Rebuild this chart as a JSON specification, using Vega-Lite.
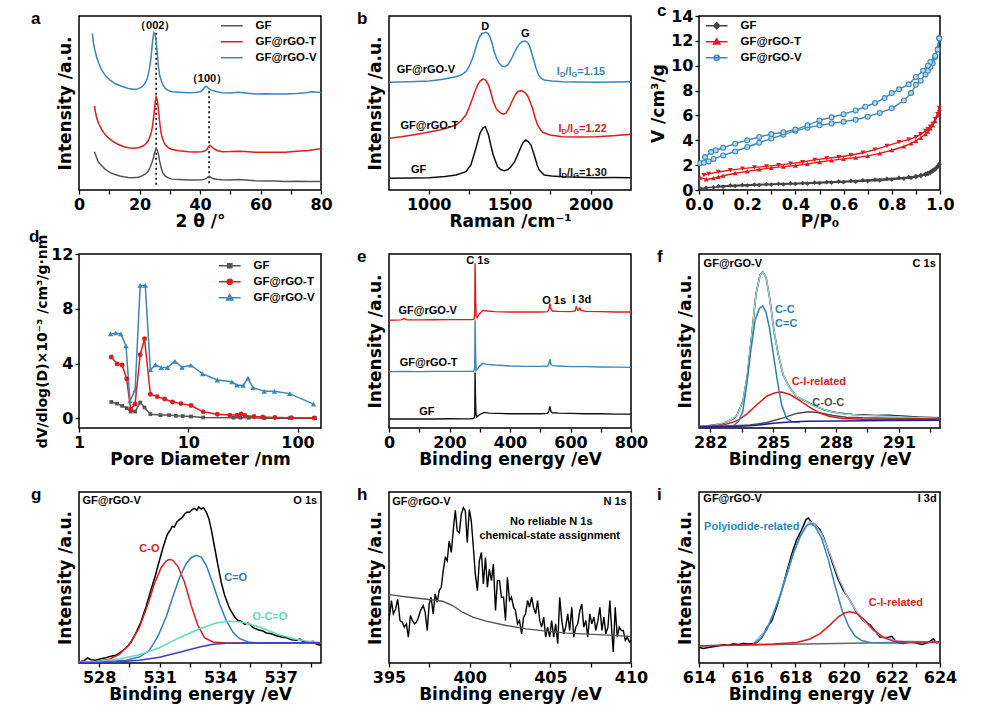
{
"$schema": "https://vega.github.io/schema/vega-lite/v6.json",
"padding": {"left": 28, "top": 1, "right": 5, "bottom": 5},
"background": "white",
"bounds": "flush",
"columns": 3,
"spacing": {"row": 64, "column": 68},
"resolve": {"scale": {"x": "independent", "y": "independent", "color": "independent", "shape": "independent"}, "legend": {"color": "independent", "shape": "independent"}},
"config": {
  "font": "DejaVu Sans",
  "view": {"stroke": "#000000", "strokeWidth": 1.5},
  "axis": {"domain": false, "grid": false, "tickColor": "#000000", "tickWidth": 1.3, "tickSize": 4, "labelFont": "DejaVu Sans", "labelFontWeight": "bold", "labelFontSize": 16, "labelColor": "#000000", "labelPadding": 2, "labelFlush": false, "labelOverlap": false, "titleFont": "DejaVu Sans", "titleFontWeight": "bold", "titleFontSize": 17, "titleColor": "#000000"},
  "axisX": {"titlePadding": 1},
  "axisY": {"titlePadding": 3},
  "legend": {"labelFont": "Liberation Sans", "labelFontWeight": "bold", "labelFontSize": 11.5, "labelColor": "#000000", "symbolStrokeWidth": 1.5, "padding": 0, "rowPadding": 3},
  "title": {"font": "Liberation Sans", "fontSize": 17, "fontWeight": "bold", "anchor": "start", "frame": "group", "offset": -12, "baseline": "alphabetic", "color": "#000000"},
  "text": {"font": "Liberation Sans", "fontWeight": "bold", "fontSize": 11}
},
"datasets": {
"a": [
{"s":"GF","x":5.08,"y":38.7},{"s":"GF","x":6.4,"y":28.3},{"s":"GF","x":8.61,"y":21},{"s":"GF","x":10.3,"y":17.6},{"s":"GF","x":11.92,"y":15.7},{"s":"GF","x":13.5,"y":14.2},{"s":"GF","x":14.8,"y":13.4},{"s":"GF","x":16.33,"y":12.7},{"s":"GF","x":17.8,"y":12.4},{"s":"GF","x":19.64,"y":13},{"s":"GF","x":20.8,"y":14.3},{"s":"GF","x":21.85,"y":16},{"s":"GF","x":22.8,"y":18.6},{"s":"GF","x":23.5,"y":22.7},{"s":"GF","x":24.1,"y":27.5},{"s":"GF","x":24.61,"y":32.7},{"s":"GF","x":25.05,"y":38.2},{"s":"GF","x":25.49,"y":42},{"s":"GF","x":25.9,"y":40.2},{"s":"GF","x":26.26,"y":36},{"s":"GF","x":26.6,"y":30},{"s":"GF","x":27.14,"y":22.7},{"s":"GF","x":27.7,"y":17.5},{"s":"GF","x":28.47,"y":14.3},{"s":"GF","x":29.5,"y":12.2},{"s":"GF","x":30.68,"y":11},{"s":"GF","x":33,"y":10.6},{"s":"GF","x":36.19,"y":10},{"s":"GF","x":38.5,"y":10.2},{"s":"GF","x":40.61,"y":10.3},{"s":"GF","x":41.6,"y":11},{"s":"GF","x":42.26,"y":12},{"s":"GF","x":42.7,"y":13.3},{"s":"GF","x":43.14,"y":14},{"s":"GF","x":43.6,"y":12.9},{"s":"GF","x":44.14,"y":11.7},{"s":"GF","x":45.5,"y":10.8},{"s":"GF","x":47.23,"y":10.3},{"s":"GF","x":50,"y":10.1},{"s":"GF","x":52.74,"y":10.5},{"s":"GF","x":55,"y":10.2},{"s":"GF","x":58.26,"y":9.3},{"s":"GF","x":62,"y":9.1},{"s":"GF","x":65,"y":9.2},{"s":"GF","x":68.19,"y":8.7},{"s":"GF","x":72,"y":8.9},{"s":"GF","x":76,"y":8.6},{"s":"GF","x":80,"y":8.7},
{"s":"GF@rGO-T","x":5.08,"y":85},{"s":"GF@rGO-T","x":5.5,"y":78},{"s":"GF@rGO-T","x":5.85,"y":72.7},{"s":"GF@rGO-T","x":6.6,"y":66.5},{"s":"GF@rGO-T","x":7.5,"y":61},{"s":"GF@rGO-T","x":8.5,"y":56.5},{"s":"GF@rGO-T","x":9.71,"y":52.7},{"s":"GF@rGO-T","x":11.3,"y":49},{"s":"GF@rGO-T","x":13.02,"y":46},{"s":"GF@rGO-T","x":14.6,"y":44},{"s":"GF@rGO-T","x":16.33,"y":42.7},{"s":"GF@rGO-T","x":18,"y":42.3},{"s":"GF@rGO-T","x":19.64,"y":42.7},{"s":"GF@rGO-T","x":20.8,"y":44},{"s":"GF@rGO-T","x":21.85,"y":46},{"s":"GF@rGO-T","x":22.8,"y":49.5},{"s":"GF@rGO-T","x":23.5,"y":54.3},{"s":"GF@rGO-T","x":24.0,"y":59.5},{"s":"GF@rGO-T","x":24.28,"y":64.3},{"s":"GF@rGO-T","x":24.6,"y":72},{"s":"GF@rGO-T","x":24.94,"y":81},{"s":"GF@rGO-T","x":25.2,"y":89},{"s":"GF@rGO-T","x":25.49,"y":94.3},{"s":"GF@rGO-T","x":25.75,"y":92.5},{"s":"GF@rGO-T","x":26.04,"y":87.7},{"s":"GF@rGO-T","x":26.3,"y":79.5},{"s":"GF@rGO-T","x":26.59,"y":71},{"s":"GF@rGO-T","x":26.95,"y":61.5},{"s":"GF@rGO-T","x":27.37,"y":54.3},{"s":"GF@rGO-T","x":27.9,"y":49.3},{"s":"GF@rGO-T","x":28.47,"y":46},{"s":"GF@rGO-T","x":29.4,"y":43.2},{"s":"GF@rGO-T","x":30.68,"y":41},{"s":"GF@rGO-T","x":33,"y":39.8},{"s":"GF@rGO-T","x":36.19,"y":38.7},{"s":"GF@rGO-T","x":38.5,"y":38.5},{"s":"GF@rGO-T","x":40.61,"y":38.7},{"s":"GF@rGO-T","x":41.6,"y":39.6},{"s":"GF@rGO-T","x":42.26,"y":41},{"s":"GF@rGO-T","x":42.8,"y":43.6},{"s":"GF@rGO-T","x":43.26,"y":45.3},{"s":"GF@rGO-T","x":43.8,"y":44},{"s":"GF@rGO-T","x":44.47,"y":42},{"s":"GF@rGO-T","x":45.6,"y":40},{"s":"GF@rGO-T","x":47.23,"y":38.7},{"s":"GF@rGO-T","x":50,"y":38.9},{"s":"GF@rGO-T","x":52.74,"y":39.3},{"s":"GF@rGO-T","x":55,"y":38.9},{"s":"GF@rGO-T","x":58.26,"y":38.3},{"s":"GF@rGO-T","x":62,"y":38.1},{"s":"GF@rGO-T","x":65,"y":38.2},{"s":"GF@rGO-T","x":68.19,"y":38.3},{"s":"GF@rGO-T","x":72,"y":39.2},{"s":"GF@rGO-T","x":75.92,"y":40},{"s":"GF@rGO-T","x":78,"y":41},{"s":"GF@rGO-T","x":80,"y":41.7},
{"s":"GF@rGO-V","x":4.41,"y":158.3},{"s":"GF@rGO-V","x":4.8,"y":148},{"s":"GF@rGO-V","x":5.3,"y":141},{"s":"GF@rGO-V","x":5.8,"y":134.5},{"s":"GF@rGO-V","x":6.4,"y":129.3},{"s":"GF@rGO-V","x":7.4,"y":122},{"s":"GF@rGO-V","x":8.61,"y":116},{"s":"GF@rGO-V","x":10.2,"y":111.3},{"s":"GF@rGO-V","x":11.92,"y":107.7},{"s":"GF@rGO-V","x":14,"y":105},{"s":"GF@rGO-V","x":16.33,"y":102.7},{"s":"GF@rGO-V","x":18.54,"y":101.7},{"s":"GF@rGO-V","x":19.7,"y":102.5},{"s":"GF@rGO-V","x":20.74,"y":104.3},{"s":"GF@rGO-V","x":21.5,"y":106.5},{"s":"GF@rGO-V","x":22.07,"y":109.3},{"s":"GF@rGO-V","x":22.55,"y":112.8},{"s":"GF@rGO-V","x":22.95,"y":117.7},{"s":"GF@rGO-V","x":23.4,"y":125},{"s":"GF@rGO-V","x":23.83,"y":134.3},{"s":"GF@rGO-V","x":24.28,"y":149.3},{"s":"GF@rGO-V","x":24.72,"y":159.3},{"s":"GF@rGO-V","x":25.05,"y":157.8},{"s":"GF@rGO-V","x":25.38,"y":154.3},{"s":"GF@rGO-V","x":25.82,"y":141},{"s":"GF@rGO-V","x":26.26,"y":124.3},{"s":"GF@rGO-V","x":26.7,"y":115.5},{"s":"GF@rGO-V","x":27.14,"y":111},{"s":"GF@rGO-V","x":27.8,"y":106},{"s":"GF@rGO-V","x":28.47,"y":102.7},{"s":"GF@rGO-V","x":29.5,"y":100.6},{"s":"GF@rGO-V","x":30.68,"y":99.3},{"s":"GF@rGO-V","x":33,"y":98.8},{"s":"GF@rGO-V","x":36.19,"y":98.3},{"s":"GF@rGO-V","x":38.5,"y":98.6},{"s":"GF@rGO-V","x":40.06,"y":99.3},{"s":"GF@rGO-V","x":40.7,"y":100.8},{"s":"GF@rGO-V","x":41.16,"y":102.7},{"s":"GF@rGO-V","x":41.6,"y":104},{"s":"GF@rGO-V","x":42.04,"y":105},{"s":"GF@rGO-V","x":42.4,"y":104.2},{"s":"GF@rGO-V","x":42.81,"y":102.7},{"s":"GF@rGO-V","x":43.5,"y":101.3},{"s":"GF@rGO-V","x":44.47,"y":100.3},{"s":"GF@rGO-V","x":46,"y":99.2},{"s":"GF@rGO-V","x":47.23,"y":98.3},{"s":"GF@rGO-V","x":50,"y":98.1},{"s":"GF@rGO-V","x":52.74,"y":98.8},{"s":"GF@rGO-V","x":55,"y":98.1},{"s":"GF@rGO-V","x":58.26,"y":97},{"s":"GF@rGO-V","x":62,"y":97.3},{"s":"GF@rGO-V","x":65,"y":97.1},{"s":"GF@rGO-V","x":68.19,"y":97},{"s":"GF@rGO-V","x":72,"y":97.6},{"s":"GF@rGO-V","x":75,"y":98.3},{"s":"GF@rGO-V","x":77.02,"y":99.3},{"s":"GF@rGO-V","x":80,"y":98.7}
],
"a_rule": [{"x":25.5,"y":159,"y2":5},{"x":43.0,"y":100,"y2":5}],
"a_text": [{"t":"（002）","x":25.2,"y":166},{"t":"（100）","x":42.3,"y":112}],
"b": [
{"s":"GF","x":757,"y":11.7},{"s":"GF","x":900,"y":11.9},{"s":"GF","x":1004,"y":12.3},{"s":"GF","x":1100,"y":13.5},{"s":"GF","x":1169,"y":15},{"s":"GF","x":1230,"y":18.3},{"s":"GF","x":1261,"y":25},{"s":"GF","x":1292,"y":41.7},{"s":"GF","x":1317,"y":56.7},{"s":"GF","x":1335,"y":62},{"s":"GF","x":1350,"y":63.3},{"s":"GF","x":1370,"y":55},{"s":"GF","x":1385,"y":44},{"s":"GF","x":1399,"y":35},{"s":"GF","x":1426,"y":23.3},{"s":"GF","x":1445,"y":20.5},{"s":"GF","x":1467,"y":19.3},{"s":"GF","x":1490,"y":20.5},{"s":"GF","x":1508,"y":23.3},{"s":"GF","x":1530,"y":28},{"s":"GF","x":1549,"y":35},{"s":"GF","x":1565,"y":41},{"s":"GF","x":1580,"y":46.7},{"s":"GF","x":1600,"y":50},{"s":"GF","x":1615,"y":48.5},{"s":"GF","x":1632,"y":45},{"s":"GF","x":1645,"y":38.5},{"s":"GF","x":1658,"y":31.7},{"s":"GF","x":1670,"y":25},{"s":"GF","x":1683,"y":20},{"s":"GF","x":1714,"y":15},{"s":"GF","x":1760,"y":14},{"s":"GF","x":1827,"y":13.3},{"s":"GF","x":1930,"y":12.8},{"s":"GF","x":2033,"y":12.3},{"s":"GF","x":2140,"y":12.4},{"s":"GF","x":2249,"y":12.3},
{"s":"GF@rGO-T","x":757,"y":51.7},{"s":"GF@rGO-T","x":830,"y":53.2},{"s":"GF@rGO-T","x":901,"y":55},{"s":"GF@rGO-T","x":980,"y":57.2},{"s":"GF@rGO-T","x":1066,"y":60},{"s":"GF@rGO-T","x":1120,"y":62.2},{"s":"GF@rGO-T","x":1169,"y":65},{"s":"GF@rGO-T","x":1200,"y":69},{"s":"GF@rGO-T","x":1230,"y":75},{"s":"GF@rGO-T","x":1250,"y":82.5},{"s":"GF@rGO-T","x":1271,"y":91.7},{"s":"GF@rGO-T","x":1285,"y":98},{"s":"GF@rGO-T","x":1302,"y":105},{"s":"GF@rGO-T","x":1320,"y":109.5},{"s":"GF@rGO-T","x":1337,"y":111},{"s":"GF@rGO-T","x":1352,"y":110},{"s":"GF@rGO-T","x":1370,"y":105},{"s":"GF@rGO-T","x":1385,"y":97},{"s":"GF@rGO-T","x":1399,"y":88.3},{"s":"GF@rGO-T","x":1420,"y":80.5},{"s":"GF@rGO-T","x":1447,"y":76.7},{"s":"GF@rGO-T","x":1462,"y":75.8},{"s":"GF@rGO-T","x":1477,"y":76.7},{"s":"GF@rGO-T","x":1500,"y":83},{"s":"GF@rGO-T","x":1519,"y":90},{"s":"GF@rGO-T","x":1535,"y":95},{"s":"GF@rGO-T","x":1549,"y":98.3},{"s":"GF@rGO-T","x":1565,"y":99.3},{"s":"GF@rGO-T","x":1580,"y":99},{"s":"GF@rGO-T","x":1595,"y":97.5},{"s":"GF@rGO-T","x":1611,"y":94.3},{"s":"GF@rGO-T","x":1626,"y":88.5},{"s":"GF@rGO-T","x":1642,"y":81.7},{"s":"GF@rGO-T","x":1657,"y":72.5},{"s":"GF@rGO-T","x":1673,"y":65},{"s":"GF@rGO-T","x":1690,"y":60.5},{"s":"GF@rGO-T","x":1704,"y":57.7},{"s":"GF@rGO-T","x":1750,"y":55},{"s":"GF@rGO-T","x":1827,"y":53.3},{"s":"GF@rGO-T","x":1930,"y":53},{"s":"GF@rGO-T","x":2033,"y":53.3},{"s":"GF@rGO-T","x":2140,"y":54.3},{"s":"GF@rGO-T","x":2249,"y":55.7},
{"s":"GF@rGO-V","x":757,"y":107.7},{"s":"GF@rGO-V","x":880,"y":108.2},{"s":"GF@rGO-V","x":1004,"y":109},{"s":"GF@rGO-V","x":1090,"y":110.8},{"s":"GF@rGO-V","x":1169,"y":113.3},{"s":"GF@rGO-V","x":1200,"y":115},{"s":"GF@rGO-V","x":1230,"y":118.3},{"s":"GF@rGO-V","x":1250,"y":123.5},{"s":"GF@rGO-V","x":1271,"y":131.7},{"s":"GF@rGO-V","x":1287,"y":140},{"s":"GF@rGO-V","x":1302,"y":148.3},{"s":"GF@rGO-V","x":1315,"y":153.3},{"s":"GF@rGO-V","x":1329,"y":156.7},{"s":"GF@rGO-V","x":1354,"y":157.7},{"s":"GF@rGO-V","x":1367,"y":156.5},{"s":"GF@rGO-V","x":1379,"y":153.3},{"s":"GF@rGO-V","x":1392,"y":146.5},{"s":"GF@rGO-V","x":1405,"y":138.3},{"s":"GF@rGO-V","x":1420,"y":131.5},{"s":"GF@rGO-V","x":1436,"y":126.7},{"s":"GF@rGO-V","x":1455,"y":123.8},{"s":"GF@rGO-V","x":1473,"y":123.3},{"s":"GF@rGO-V","x":1490,"y":125.5},{"s":"GF@rGO-V","x":1508,"y":130},{"s":"GF@rGO-V","x":1525,"y":135.8},{"s":"GF@rGO-V","x":1543,"y":141.7},{"s":"GF@rGO-V","x":1560,"y":145.8},{"s":"GF@rGO-V","x":1576,"y":148.3},{"s":"GF@rGO-V","x":1597,"y":149},{"s":"GF@rGO-V","x":1610,"y":147.8},{"s":"GF@rGO-V","x":1621,"y":145},{"s":"GF@rGO-V","x":1633,"y":139},{"s":"GF@rGO-V","x":1646,"y":131.7},{"s":"GF@rGO-V","x":1662,"y":122.5},{"s":"GF@rGO-V","x":1679,"y":115},{"s":"GF@rGO-V","x":1696,"y":111.5},{"s":"GF@rGO-V","x":1714,"y":110},{"s":"GF@rGO-V","x":1760,"y":109},{"s":"GF@rGO-V","x":1827,"y":108.3},{"s":"GF@rGO-V","x":1930,"y":107.9},{"s":"GF@rGO-V","x":2033,"y":107.7},{"s":"GF@rGO-V","x":2140,"y":108},{"s":"GF@rGO-V","x":2249,"y":108.3}
],
"b_text": [{"t":"GF@rGO-V","x":983,"y":120},{"t":"GF@rGO-T","x":1004,"y":64.3},{"t":"GF","x":938,"y":20},{"t":"D","x":1350,"y":163.3},{"t":"G","x":1597,"y":155.7}],
"b_ratio": [{"s":"GF@rGO-V","r":"=1.15","x":1792,"y":118.3},{"s":"GF@rGO-T","r":"=1.22","x":1802,"y":61},{"s":"GF","r":"=1.30","x":1802,"y":16.7}],
"c": [
{"s":"GF","b":"a","x":0.005,"y":0.12},{"s":"GF","b":"a","x":0.03,"y":0.18},{"s":"GF","b":"a","x":0.06,"y":0.22},{"s":"GF","b":"a","x":0.1,"y":0.27},{"s":"GF","b":"a","x":0.15,"y":0.32},{"s":"GF","b":"a","x":0.2,"y":0.36},{"s":"GF","b":"a","x":0.25,"y":0.4},{"s":"GF","b":"a","x":0.3,"y":0.43},{"s":"GF","b":"a","x":0.35,"y":0.46},{"s":"GF","b":"a","x":0.4,"y":0.49},{"s":"GF","b":"a","x":0.45,"y":0.52},{"s":"GF","b":"a","x":0.5,"y":0.56},{"s":"GF","b":"a","x":0.55,"y":0.6},{"s":"GF","b":"a","x":0.6,"y":0.63},{"s":"GF","b":"a","x":0.65,"y":0.67},{"s":"GF","b":"a","x":0.7,"y":0.72},{"s":"GF","b":"a","x":0.75,"y":0.77},{"s":"GF","b":"a","x":0.8,"y":0.84},{"s":"GF","b":"a","x":0.85,"y":0.92},{"s":"GF","b":"a","x":0.88,"y":0.98},{"s":"GF","b":"a","x":0.9,"y":1.04},{"s":"GF","b":"a","x":0.92,"y":1.12},{"s":"GF","b":"a","x":0.94,"y":1.22},{"s":"GF","b":"a","x":0.95,"y":1.3},{"s":"GF","b":"a","x":0.96,"y":1.38},{"s":"GF","b":"a","x":0.97,"y":1.5},{"s":"GF","b":"a","x":0.98,"y":1.65},{"s":"GF","b":"a","x":0.99,"y":1.85},{"s":"GF","b":"a","x":0.997,"y":2.05},
{"s":"GF","b":"d","x":0.997,"y":2.1},{"s":"GF","b":"d","x":0.99,"y":1.9},{"s":"GF","b":"d","x":0.98,"y":1.72},{"s":"GF","b":"d","x":0.97,"y":1.58},{"s":"GF","b":"d","x":0.96,"y":1.47},{"s":"GF","b":"d","x":0.95,"y":1.38},{"s":"GF","b":"d","x":0.94,"y":1.3},{"s":"GF","b":"d","x":0.92,"y":1.2},{"s":"GF","b":"d","x":0.9,"y":1.12},{"s":"GF","b":"d","x":0.87,"y":1.04},{"s":"GF","b":"d","x":0.83,"y":0.97},{"s":"GF","b":"d","x":0.78,"y":0.9},{"s":"GF","b":"d","x":0.73,"y":0.84},{"s":"GF","b":"d","x":0.68,"y":0.78},{"s":"GF","b":"d","x":0.63,"y":0.73},{"s":"GF","b":"d","x":0.58,"y":0.68},{"s":"GF","b":"d","x":0.53,"y":0.64},{"s":"GF","b":"d","x":0.48,"y":0.6},{"s":"GF","b":"d","x":0.43,"y":0.56},{"s":"GF","b":"d","x":0.38,"y":0.53},{"s":"GF","b":"d","x":0.33,"y":0.5},{"s":"GF","b":"d","x":0.28,"y":0.47},{"s":"GF","b":"d","x":0.23,"y":0.44},{"s":"GF","b":"d","x":0.18,"y":0.4},{"s":"GF","b":"d","x":0.13,"y":0.36},{"s":"GF","b":"d","x":0.08,"y":0.3},
{"s":"GF@rGO-T","b":"a","x":0.005,"y":1.0},{"s":"GF@rGO-T","b":"a","x":0.03,"y":0.85},{"s":"GF@rGO-T","b":"a","x":0.06,"y":0.95},{"s":"GF@rGO-T","b":"a","x":0.08,"y":1.05},{"s":"GF@rGO-T","b":"a","x":0.1,"y":1.15},{"s":"GF@rGO-T","b":"a","x":0.15,"y":1.35},{"s":"GF@rGO-T","b":"a","x":0.2,"y":1.5},{"s":"GF@rGO-T","b":"a","x":0.25,"y":1.65},{"s":"GF@rGO-T","b":"a","x":0.3,"y":1.78},{"s":"GF@rGO-T","b":"a","x":0.35,"y":1.88},{"s":"GF@rGO-T","b":"a","x":0.4,"y":1.97},{"s":"GF@rGO-T","b":"a","x":0.45,"y":2.1},{"s":"GF@rGO-T","b":"a","x":0.5,"y":2.25},{"s":"GF@rGO-T","b":"a","x":0.55,"y":2.38},{"s":"GF@rGO-T","b":"a","x":0.6,"y":2.5},{"s":"GF@rGO-T","b":"a","x":0.65,"y":2.6},{"s":"GF@rGO-T","b":"a","x":0.7,"y":2.75},{"s":"GF@rGO-T","b":"a","x":0.75,"y":2.95},{"s":"GF@rGO-T","b":"a","x":0.8,"y":3.2},{"s":"GF@rGO-T","b":"a","x":0.85,"y":3.5},{"s":"GF@rGO-T","b":"a","x":0.88,"y":3.75},{"s":"GF@rGO-T","b":"a","x":0.9,"y":3.95},{"s":"GF@rGO-T","b":"a","x":0.92,"y":4.2},{"s":"GF@rGO-T","b":"a","x":0.94,"y":4.5},{"s":"GF@rGO-T","b":"a","x":0.95,"y":4.7},{"s":"GF@rGO-T","b":"a","x":0.96,"y":4.95},{"s":"GF@rGO-T","b":"a","x":0.97,"y":5.2},{"s":"GF@rGO-T","b":"a","x":0.98,"y":5.55},{"s":"GF@rGO-T","b":"a","x":0.99,"y":6.0},{"s":"GF@rGO-T","b":"a","x":0.997,"y":6.5},
{"s":"GF@rGO-T","b":"d","x":0.997,"y":6.6},{"s":"GF@rGO-T","b":"d","x":0.99,"y":6.1},{"s":"GF@rGO-T","b":"d","x":0.98,"y":5.7},{"s":"GF@rGO-T","b":"d","x":0.97,"y":5.35},{"s":"GF@rGO-T","b":"d","x":0.96,"y":5.1},{"s":"GF@rGO-T","b":"d","x":0.95,"y":4.9},{"s":"GF@rGO-T","b":"d","x":0.94,"y":4.75},{"s":"GF@rGO-T","b":"d","x":0.92,"y":4.5},{"s":"GF@rGO-T","b":"d","x":0.9,"y":4.25},{"s":"GF@rGO-T","b":"d","x":0.87,"y":4.05},{"s":"GF@rGO-T","b":"d","x":0.83,"y":3.85},{"s":"GF@rGO-T","b":"d","x":0.78,"y":3.55},{"s":"GF@rGO-T","b":"d","x":0.73,"y":3.25},{"s":"GF@rGO-T","b":"d","x":0.68,"y":3.0},{"s":"GF@rGO-T","b":"d","x":0.63,"y":2.8},{"s":"GF@rGO-T","b":"d","x":0.58,"y":2.65},{"s":"GF@rGO-T","b":"d","x":0.53,"y":2.55},{"s":"GF@rGO-T","b":"d","x":0.48,"y":2.42},{"s":"GF@rGO-T","b":"d","x":0.43,"y":2.25},{"s":"GF@rGO-T","b":"d","x":0.38,"y":2.12},{"s":"GF@rGO-T","b":"d","x":0.33,"y":2.0},{"s":"GF@rGO-T","b":"d","x":0.28,"y":1.9},{"s":"GF@rGO-T","b":"d","x":0.23,"y":1.82},{"s":"GF@rGO-T","b":"d","x":0.18,"y":1.72},{"s":"GF@rGO-T","b":"d","x":0.13,"y":1.6},{"s":"GF@rGO-T","b":"d","x":0.08,"y":1.45},{"s":"GF@rGO-T","b":"d","x":0.04,"y":1.3},{"s":"GF@rGO-T","b":"d","x":0.02,"y":1.2},
{"s":"GF@rGO-V","b":"a","x":0.005,"y":2.16},{"s":"GF@rGO-V","b":"a","x":0.02,"y":2.2},{"s":"GF@rGO-V","b":"a","x":0.04,"y":2.3},{"s":"GF@rGO-V","b":"a","x":0.06,"y":2.5},{"s":"GF@rGO-V","b":"a","x":0.1,"y":2.78},{"s":"GF@rGO-V","b":"a","x":0.15,"y":3.1},{"s":"GF@rGO-V","b":"a","x":0.2,"y":3.46},{"s":"GF@rGO-V","b":"a","x":0.25,"y":3.8},{"s":"GF@rGO-V","b":"a","x":0.3,"y":4.14},{"s":"GF@rGO-V","b":"a","x":0.35,"y":4.45},{"s":"GF@rGO-V","b":"a","x":0.4,"y":4.76},{"s":"GF@rGO-V","b":"a","x":0.45,"y":5.0},{"s":"GF@rGO-V","b":"a","x":0.5,"y":5.2},{"s":"GF@rGO-V","b":"a","x":0.55,"y":5.35},{"s":"GF@rGO-V","b":"a","x":0.6,"y":5.5},{"s":"GF@rGO-V","b":"a","x":0.65,"y":5.65},{"s":"GF@rGO-V","b":"a","x":0.7,"y":5.9},{"s":"GF@rGO-V","b":"a","x":0.75,"y":6.2},{"s":"GF@rGO-V","b":"a","x":0.8,"y":6.57},{"s":"GF@rGO-V","b":"a","x":0.85,"y":7.2},{"s":"GF@rGO-V","b":"a","x":0.88,"y":7.8},{"s":"GF@rGO-V","b":"a","x":0.9,"y":8.46},{"s":"GF@rGO-V","b":"a","x":0.92,"y":8.8},{"s":"GF@rGO-V","b":"a","x":0.94,"y":9.3},{"s":"GF@rGO-V","b":"a","x":0.95,"y":9.6},{"s":"GF@rGO-V","b":"a","x":0.96,"y":9.9},{"s":"GF@rGO-V","b":"a","x":0.97,"y":10.2},{"s":"GF@rGO-V","b":"a","x":0.98,"y":10.7},{"s":"GF@rGO-V","b":"a","x":0.99,"y":11.3},{"s":"GF@rGO-V","b":"a","x":0.997,"y":12.2},
{"s":"GF@rGO-V","b":"d","x":0.997,"y":12.2},{"s":"GF@rGO-V","b":"d","x":0.98,"y":10.8},{"s":"GF@rGO-V","b":"d","x":0.96,"y":10.3},{"s":"GF@rGO-V","b":"d","x":0.95,"y":10.0},{"s":"GF@rGO-V","b":"d","x":0.93,"y":9.6},{"s":"GF@rGO-V","b":"d","x":0.9,"y":9.1},{"s":"GF@rGO-V","b":"d","x":0.87,"y":8.5},{"s":"GF@rGO-V","b":"d","x":0.83,"y":8.1},{"s":"GF@rGO-V","b":"d","x":0.8,"y":7.8},{"s":"GF@rGO-V","b":"d","x":0.77,"y":7.4},{"s":"GF@rGO-V","b":"d","x":0.73,"y":7.0},{"s":"GF@rGO-V","b":"d","x":0.69,"y":6.7},{"s":"GF@rGO-V","b":"d","x":0.65,"y":6.4},{"s":"GF@rGO-V","b":"d","x":0.6,"y":6.1},{"s":"GF@rGO-V","b":"d","x":0.55,"y":5.85},{"s":"GF@rGO-V","b":"d","x":0.5,"y":5.6},{"s":"GF@rGO-V","b":"d","x":0.45,"y":5.2},{"s":"GF@rGO-V","b":"d","x":0.4,"y":4.86},{"s":"GF@rGO-V","b":"d","x":0.35,"y":4.65},{"s":"GF@rGO-V","b":"d","x":0.3,"y":4.5},{"s":"GF@rGO-V","b":"d","x":0.25,"y":4.27},{"s":"GF@rGO-V","b":"d","x":0.2,"y":4.0},{"s":"GF@rGO-V","b":"d","x":0.15,"y":3.73},{"s":"GF@rGO-V","b":"d","x":0.1,"y":3.4},{"s":"GF@rGO-V","b":"d","x":0.07,"y":3.2},{"s":"GF@rGO-V","b":"d","x":0.05,"y":3.05},{"s":"GF@rGO-V","b":"d","x":0.025,"y":2.65}
],
"d": [
{"s":"GF","x":1.975,"y":1.2},{"s":"GF","x":2.23,"y":1.08},{"s":"GF","x":2.48,"y":0.92},{"s":"GF","x":2.73,"y":0.75},{"s":"GF","x":2.97,"y":0.5},{"s":"GF","x":3.26,"y":0.5},{"s":"GF","x":3.63,"y":1.16},{"s":"GF","x":3.98,"y":0.8},{"s":"GF","x":4.5,"y":0.31},{"s":"GF","x":5.58,"y":0.24},{"s":"GF","x":6.67,"y":0.24},{"s":"GF","x":7.7,"y":0.19},{"s":"GF","x":8.89,"y":0.17},{"s":"GF","x":10.6,"y":0.14},{"s":"GF","x":13.7,"y":0.07},{"s":"GF","x":26,"y":0.05},{"s":"GF","x":30,"y":0.05},{"s":"GF","x":35.9,"y":0.05},{"s":"GF","x":49.6,"y":0.02},{"s":"GF","x":84.8,"y":0.02},{"s":"GF","x":145,"y":0.02},
{"s":"GF@rGO-T","x":1.975,"y":4.48},{"s":"GF@rGO-T","x":2.23,"y":3.98},{"s":"GF@rGO-T","x":2.48,"y":3.9},{"s":"GF@rGO-T","x":2.73,"y":2.89},{"s":"GF@rGO-T","x":2.97,"y":0.67},{"s":"GF@rGO-T","x":3.26,"y":1.04},{"s":"GF@rGO-T","x":3.63,"y":4.65},{"s":"GF@rGO-T","x":3.98,"y":5.81},{"s":"GF@rGO-T","x":4.5,"y":1.76},{"s":"GF@rGO-T","x":5.19,"y":1.59},{"s":"GF@rGO-T","x":6.08,"y":1.42},{"s":"GF@rGO-T","x":7.17,"y":1.2},{"s":"GF@rGO-T","x":8.58,"y":1.08},{"s":"GF@rGO-T","x":10.6,"y":0.94},{"s":"GF@rGO-T","x":13.7,"y":0.48},{"s":"GF@rGO-T","x":18.45,"y":0.3},{"s":"GF@rGO-T","x":24,"y":0.24},{"s":"GF@rGO-T","x":28,"y":0.24},{"s":"GF@rGO-T","x":30.5,"y":0.33},{"s":"GF@rGO-T","x":33,"y":0.22},{"s":"GF@rGO-T","x":40,"y":0.14},{"s":"GF@rGO-T","x":48,"y":0.1},{"s":"GF@rGO-T","x":62,"y":0.07},{"s":"GF@rGO-T","x":88,"y":0.05},{"s":"GF@rGO-T","x":142,"y":0.03},
{"s":"GF@rGO-V","x":1.947,"y":6.17},{"s":"GF@rGO-V","x":2.17,"y":6.24},{"s":"GF@rGO-V","x":2.41,"y":6.17},{"s":"GF@rGO-V","x":2.69,"y":5.3},{"s":"GF@rGO-V","x":2.93,"y":1.28},{"s":"GF@rGO-V","x":3.26,"y":2.07},{"s":"GF@rGO-V","x":3.63,"y":9.71},{"s":"GF@rGO-V","x":4.04,"y":9.71},{"s":"GF@rGO-V","x":4.5,"y":3.54},{"s":"GF@rGO-V","x":5.01,"y":3.9},{"s":"GF@rGO-V","x":5.66,"y":3.71},{"s":"GF@rGO-V","x":6.44,"y":3.71},{"s":"GF@rGO-V","x":7.54,"y":4.17},{"s":"GF@rGO-V","x":8.76,"y":3.73},{"s":"GF@rGO-V","x":10.55,"y":3.88},{"s":"GF@rGO-V","x":13.56,"y":3.25},{"s":"GF@rGO-V","x":18.45,"y":2.8},{"s":"GF@rGO-V","x":25.1,"y":2.67},{"s":"GF@rGO-V","x":27.9,"y":2.43},{"s":"GF@rGO-V","x":31.8,"y":2.41},{"s":"GF@rGO-V","x":35.2,"y":2.94},{"s":"GF@rGO-V","x":39.1,"y":2.24},{"s":"GF@rGO-V","x":49.6,"y":1.98},{"s":"GF@rGO-V","x":61.5,"y":1.98},{"s":"GF@rGO-V","x":84.8,"y":1.81},{"s":"GF@rGO-V","x":140,"y":1.04}
],
"e": [
{"s":"GF","x":0,"y":9},{"s":"GF","x":50,"y":9.2},{"s":"GF","x":100,"y":9},{"s":"GF","x":150,"y":9.1},{"s":"GF","x":200,"y":9.3},{"s":"GF","x":250,"y":9.2},{"s":"GF","x":270,"y":9.3},{"s":"GF","x":280,"y":9.7},{"s":"GF","x":282,"y":10.3},{"s":"GF","x":283.5,"y":14},{"s":"GF","x":284.5,"y":55.7},{"s":"GF","x":285.5,"y":38},{"s":"GF","x":286.5,"y":22},{"s":"GF","x":288,"y":13.3},{"s":"GF","x":290,"y":11},{"s":"GF","x":295,"y":12.3},{"s":"GF","x":305,"y":14.3},{"s":"GF","x":315,"y":15.7},{"s":"GF","x":330,"y":15},{"s":"GF","x":360,"y":14.7},{"s":"GF","x":400,"y":14.3},{"s":"GF","x":450,"y":14.3},{"s":"GF","x":500,"y":14.3},{"s":"GF","x":525,"y":14.7},{"s":"GF","x":529,"y":17.7},{"s":"GF","x":532,"y":21.7},{"s":"GF","x":535,"y":16.7},{"s":"GF","x":540,"y":15.3},{"s":"GF","x":560,"y":15},{"s":"GF","x":600,"y":14.7},{"s":"GF","x":650,"y":14.3},{"s":"GF","x":700,"y":14.3},{"s":"GF","x":750,"y":14},{"s":"GF","x":800,"y":14},
{"s":"GF@rGO-T","x":0,"y":56.7},{"s":"GF@rGO-T","x":50,"y":56.8},{"s":"GF@rGO-T","x":100,"y":56.7},{"s":"GF@rGO-T","x":150,"y":56.9},{"s":"GF@rGO-T","x":200,"y":57},{"s":"GF@rGO-T","x":250,"y":57},{"s":"GF@rGO-T","x":270,"y":57},{"s":"GF@rGO-T","x":280,"y":57.3},{"s":"GF@rGO-T","x":282,"y":58.3},{"s":"GF@rGO-T","x":283.5,"y":62},{"s":"GF@rGO-T","x":284.5,"y":108.3},{"s":"GF@rGO-T","x":285.5,"y":90},{"s":"GF@rGO-T","x":286.5,"y":72},{"s":"GF@rGO-T","x":288,"y":57.7},{"s":"GF@rGO-T","x":292,"y":59},{"s":"GF@rGO-T","x":300,"y":62.3},{"s":"GF@rGO-T","x":310,"y":65},{"s":"GF@rGO-T","x":325,"y":64},{"s":"GF@rGO-T","x":350,"y":63.3},{"s":"GF@rGO-T","x":400,"y":62.3},{"s":"GF@rGO-T","x":450,"y":62},{"s":"GF@rGO-T","x":500,"y":62},{"s":"GF@rGO-T","x":525,"y":62.3},{"s":"GF@rGO-T","x":529,"y":65},{"s":"GF@rGO-T","x":532,"y":69.3},{"s":"GF@rGO-T","x":535,"y":64.3},{"s":"GF@rGO-T","x":540,"y":62.7},{"s":"GF@rGO-T","x":560,"y":62.3},{"s":"GF@rGO-T","x":600,"y":61.7},{"s":"GF@rGO-T","x":650,"y":61.7},{"s":"GF@rGO-T","x":700,"y":61.3},{"s":"GF@rGO-T","x":750,"y":61.2},{"s":"GF@rGO-T","x":800,"y":61},
{"s":"GF@rGO-V","x":0,"y":108.3},{"s":"GF@rGO-V","x":40,"y":108.7},{"s":"GF@rGO-V","x":50,"y":110},{"s":"GF@rGO-V","x":60,"y":108.7},{"s":"GF@rGO-V","x":100,"y":108.7},{"s":"GF@rGO-V","x":150,"y":108.8},{"s":"GF@rGO-V","x":200,"y":109},{"s":"GF@rGO-V","x":250,"y":109},{"s":"GF@rGO-V","x":270,"y":109},{"s":"GF@rGO-V","x":280,"y":109.3},{"s":"GF@rGO-V","x":282,"y":110.3},{"s":"GF@rGO-V","x":283.5,"y":118},{"s":"GF@rGO-V","x":284.5,"y":165.7},{"s":"GF@rGO-V","x":285.5,"y":150},{"s":"GF@rGO-V","x":286.5,"y":128},{"s":"GF@rGO-V","x":288,"y":113.3},{"s":"GF@rGO-V","x":291,"y":111},{"s":"GF@rGO-V","x":300,"y":115},{"s":"GF@rGO-V","x":310,"y":118.3},{"s":"GF@rGO-V","x":325,"y":117.7},{"s":"GF@rGO-V","x":350,"y":117},{"s":"GF@rGO-V","x":400,"y":116.7},{"s":"GF@rGO-V","x":450,"y":116.7},{"s":"GF@rGO-V","x":500,"y":116.7},{"s":"GF@rGO-V","x":525,"y":117},{"s":"GF@rGO-V","x":529,"y":120},{"s":"GF@rGO-V","x":532,"y":125},{"s":"GF@rGO-V","x":535,"y":120},{"s":"GF@rGO-V","x":540,"y":117.7},{"s":"GF@rGO-V","x":560,"y":117.3},{"s":"GF@rGO-V","x":600,"y":117},{"s":"GF@rGO-V","x":615,"y":117.7},{"s":"GF@rGO-V","x":619,"y":121.7},{"s":"GF@rGO-V","x":624,"y":118.3},{"s":"GF@rGO-V","x":628,"y":119},{"s":"GF@rGO-V","x":631,"y":120.7},{"s":"GF@rGO-V","x":635,"y":118.3},{"s":"GF@rGO-V","x":650,"y":117.3},{"s":"GF@rGO-V","x":700,"y":117},{"s":"GF@rGO-V","x":750,"y":116.7},{"s":"GF@rGO-V","x":800,"y":116.7}
],
"e_text": [{"t":"C 1s","x":294,"y":167.7},{"t":"O 1s","x":546,"y":127.3},{"t":"I 3d","x":637,"y":128.3},{"t":"GF@rGO-V","x":128,"y":117.3},{"t":"GF@rGO-T","x":131,"y":65.7},{"t":"GF","x":125,"y":15.7}],
"f": [
{"s":"raw","x":281.48,"y":0.7},{"s":"raw","x":281.9,"y":1.5},{"s":"raw","x":282.24,"y":2.5},{"s":"raw","x":282.6,"y":3.8},{"s":"raw","x":282.87,"y":6.2},{"s":"raw","x":283.1,"y":8.5},{"s":"raw","x":283.27,"y":11.9},{"s":"raw","x":283.55,"y":25.3},{"s":"raw","x":283.77,"y":51.5},{"s":"raw","x":283.98,"y":91.9},{"s":"raw","x":284.18,"y":131.5},{"s":"raw","x":284.37,"y":150.2},{"s":"raw","x":284.5,"y":153.5},{"s":"raw","x":284.66,"y":148},{"s":"raw","x":284.85,"y":125.3},{"s":"raw","x":285.04,"y":94.7},{"s":"raw","x":285.24,"y":71.9},{"s":"raw","x":285.48,"y":51.4},{"s":"raw","x":285.8,"y":38.6},{"s":"raw","x":286.11,"y":30.4},{"s":"raw","x":286.59,"y":25.3},{"s":"raw","x":287.06,"y":20.3},{"s":"raw","x":287.4,"y":17.5},{"s":"raw","x":287.7,"y":15.9},{"s":"raw","x":288.0,"y":14.6},{"s":"raw","x":288.33,"y":13.7},{"s":"raw","x":288.8,"y":12.6},{"s":"raw","x":289.28,"y":12.2},{"s":"raw","x":289.9,"y":11.6},{"s":"raw","x":290.54,"y":11.8},{"s":"raw","x":291.0,"y":11.2},{"s":"raw","x":291.49,"y":10.6},{"s":"raw","x":292.0,"y":10.0},{"s":"raw","x":292.5,"y":9.6},{"s":"raw","x":292.92,"y":9.3},
{"s":"env","x":281.48,"y":0.7},{"s":"env","x":282.24,"y":2.3},{"s":"env","x":282.87,"y":6},{"s":"env","x":283.27,"y":11.7},{"s":"env","x":283.55,"y":25},{"s":"env","x":283.77,"y":51.7},{"s":"env","x":283.98,"y":91.7},{"s":"env","x":284.18,"y":131.7},{"s":"env","x":284.37,"y":150},{"s":"env","x":284.5,"y":153.3},{"s":"env","x":284.66,"y":148.3},{"s":"env","x":284.85,"y":125},{"s":"env","x":285.04,"y":95},{"s":"env","x":285.24,"y":71.7},{"s":"env","x":285.48,"y":51.7},{"s":"env","x":285.8,"y":38.3},{"s":"env","x":286.11,"y":30.7},{"s":"env","x":286.59,"y":25},{"s":"env","x":287.06,"y":20},{"s":"env","x":287.7,"y":15.7},{"s":"env","x":288.33,"y":13.3},{"s":"env","x":289.28,"y":11.7},{"s":"env","x":290.54,"y":11},{"s":"env","x":291.49,"y":10},{"s":"env","x":292.92,"y":9},
{"s":"C-O-C","x":281.48,"y":0.7},{"s":"C-O-C","x":282.63,"y":1},{"s":"C-O-C","x":283.9,"y":2.3},{"s":"C-O-C","x":284.69,"y":4.7},{"s":"C-O-C","x":285.48,"y":9.3},{"s":"C-O-C","x":286.11,"y":13.7},{"s":"C-O-C","x":286.67,"y":15.3},{"s":"C-O-C","x":287.22,"y":14.3},{"s":"C-O-C","x":287.85,"y":11.7},{"s":"C-O-C","x":288.49,"y":10},{"s":"C-O-C","x":289.28,"y":9.3},{"s":"C-O-C","x":290.54,"y":9},{"s":"C-O-C","x":292.92,"y":8.3},
{"s":"C-I","x":281.48,"y":0.6},{"s":"C-I","x":281.84,"y":1},{"s":"C-I","x":282.63,"y":2.3},{"s":"C-I","x":283.27,"y":6.3},{"s":"C-I","x":283.74,"y":13},{"s":"C-I","x":284.22,"y":22.3},{"s":"C-I","x":284.69,"y":30.7},{"s":"C-I","x":285.09,"y":34},{"s":"C-I","x":285.4,"y":34.7},{"s":"C-I","x":285.8,"y":32.3},{"s":"C-I","x":286.27,"y":26.3},{"s":"C-I","x":286.75,"y":19.7},{"s":"C-I","x":287.22,"y":14},{"s":"C-I","x":287.7,"y":10.7},{"s":"C-I","x":288.33,"y":8.7},{"s":"C-I","x":289.28,"y":8},{"s":"C-I","x":290.54,"y":8},{"s":"C-I","x":292.92,"y":8},
{"s":"C-C","x":282.7,"y":1.1},{"s":"C-C","x":283.11,"y":1.7},{"s":"C-C","x":283.34,"y":5.7},{"s":"C-C","x":283.55,"y":15.7},{"s":"C-C","x":283.74,"y":42.3},{"s":"C-C","x":283.93,"y":75.7},{"s":"C-C","x":284.14,"y":105.7},{"s":"C-C","x":284.34,"y":117.3},{"s":"C-C","x":284.5,"y":119.7},{"s":"C-C","x":284.66,"y":113.3},{"s":"C-C","x":284.82,"y":98.3},{"s":"C-C","x":285.01,"y":71.7},{"s":"C-C","x":285.2,"y":45.7},{"s":"C-C","x":285.4,"y":22.3},{"s":"C-C","x":285.64,"y":9},{"s":"C-C","x":285.88,"y":5.7},{"s":"C-C","x":286.27,"y":4.7},
{"s":"bg","x":281.48,"y":0.3},{"s":"bg","x":283.42,"y":1},{"s":"bg","x":284.22,"y":2},{"s":"bg","x":285.0,"y":4},{"s":"bg","x":285.8,"y":5.3},{"s":"bg","x":286.59,"y":6},{"s":"bg","x":288.17,"y":6.3},{"s":"bg","x":290.54,"y":6.7},{"s":"bg","x":292.92,"y":7}
],
"f_lab": [{"s":"C-C","t":"C-C","x":285.09,"y":115.7},{"s":"C-C","t":"C=C","x":285.09,"y":101.7},{"s":"C-I","t":"C-I-related","x":285.88,"y":45},{"s":"C-O-C","t":"C-O-C","x":286.87,"y":24.3}],
"g": [
{"s":"raw","x":527.0,"y":1},{"s":"raw","x":527.25,"y":2.3},{"s":"raw","x":527.42,"y":5},{"s":"raw","x":527.59,"y":3.3},{"s":"raw","x":527.83,"y":2.7},{"s":"raw","x":528.08,"y":4.3},{"s":"raw","x":528.33,"y":5.3},{"s":"raw","x":528.58,"y":6.7},{"s":"raw","x":528.83,"y":7.7},{"s":"raw","x":529.08,"y":11},{"s":"raw","x":529.33,"y":15},{"s":"raw","x":529.58,"y":21},{"s":"raw","x":529.82,"y":30},{"s":"raw","x":530.07,"y":41},{"s":"raw","x":530.32,"y":56},{"s":"raw","x":530.57,"y":73.3},{"s":"raw","x":530.79,"y":87.7},{"s":"raw","x":530.99,"y":102.7},{"s":"raw","x":531.15,"y":114.3},{"s":"raw","x":531.32,"y":125.3},{"s":"raw","x":531.4,"y":129.3},{"s":"raw","x":531.52,"y":132.7},{"s":"raw","x":531.62,"y":136.7},{"s":"raw","x":531.73,"y":136},{"s":"raw","x":531.85,"y":141},{"s":"raw","x":531.98,"y":143.3},{"s":"raw","x":532.11,"y":145.3},{"s":"raw","x":532.25,"y":149.3},{"s":"raw","x":532.36,"y":151},{"s":"raw","x":532.48,"y":150.7},{"s":"raw","x":532.61,"y":153.3},{"s":"raw","x":532.73,"y":154.7},{"s":"raw","x":532.84,"y":152.7},{"s":"raw","x":532.94,"y":156},{"s":"raw","x":533.06,"y":154},{"s":"raw","x":533.17,"y":155.3},{"s":"raw","x":533.31,"y":151},{"s":"raw","x":533.44,"y":144.3},{"s":"raw","x":533.57,"y":132.7},{"s":"raw","x":533.72,"y":116},{"s":"raw","x":533.89,"y":97.7},{"s":"raw","x":534.05,"y":81},{"s":"raw","x":534.22,"y":67.7},{"s":"raw","x":534.47,"y":54.3},{"s":"raw","x":534.72,"y":46},{"s":"raw","x":534.88,"y":42.7},{"s":"raw","x":535.05,"y":41.7},{"s":"raw","x":535.21,"y":38.7},{"s":"raw","x":535.38,"y":40},{"s":"raw","x":535.63,"y":35.3},{"s":"raw","x":535.88,"y":33.3},{"s":"raw","x":536.13,"y":32},{"s":"raw","x":536.29,"y":30},{"s":"raw","x":536.54,"y":29.3},{"s":"raw","x":536.79,"y":27.3},{"s":"raw","x":537.04,"y":26},{"s":"raw","x":537.29,"y":25.3},{"s":"raw","x":537.54,"y":23.3},{"s":"raw","x":537.78,"y":22.7},{"s":"raw","x":537.95,"y":24},{"s":"raw","x":538.12,"y":21.3},{"s":"raw","x":538.36,"y":20.7},{"s":"raw","x":538.61,"y":21.7},{"s":"raw","x":538.78,"y":18.7},{"s":"raw","x":538.98,"y":17.7},
{"s":"C-O","x":527.0,"y":0.7},{"s":"C-O","x":527.83,"y":1.3},{"s":"C-O","x":528.5,"y":3.7},{"s":"C-O","x":529.0,"y":8.7},{"s":"C-O","x":529.49,"y":18.3},{"s":"C-O","x":529.99,"y":35.3},{"s":"C-O","x":530.4,"y":57.7},{"s":"C-O","x":530.74,"y":79.3},{"s":"C-O","x":531.07,"y":95.3},{"s":"C-O","x":531.32,"y":102},{"s":"C-O","x":531.48,"y":103.7},{"s":"C-O","x":531.65,"y":102.7},{"s":"C-O","x":531.9,"y":96.7},{"s":"C-O","x":532.23,"y":81},{"s":"C-O","x":532.56,"y":57.7},{"s":"C-O","x":532.89,"y":37.7},{"s":"C-O","x":533.22,"y":25.3},{"s":"C-O","x":533.64,"y":21},{"s":"C-O","x":534.3,"y":20},{"s":"C-O","x":536.29,"y":20},{"s":"C-O","x":538.98,"y":20},
{"s":"C=O","x":528.0,"y":1},{"s":"C=O","x":529.33,"y":2.7},{"s":"C=O","x":529.99,"y":6},{"s":"C=O","x":530.49,"y":12.7},{"s":"C=O","x":530.9,"y":26},{"s":"C=O","x":531.32,"y":46},{"s":"C=O","x":531.65,"y":66},{"s":"C=O","x":531.98,"y":85.3},{"s":"C=O","x":532.31,"y":99.3},{"s":"C=O","x":532.56,"y":105.3},{"s":"C=O","x":532.81,"y":107.7},{"s":"C=O","x":533.06,"y":106},{"s":"C=O","x":533.31,"y":97.7},{"s":"C=O","x":533.64,"y":79.3},{"s":"C=O","x":533.97,"y":59.3},{"s":"C=O","x":534.3,"y":42.7},{"s":"C=O","x":534.63,"y":31},{"s":"C=O","x":534.97,"y":24.3},{"s":"C=O","x":535.38,"y":21},{"s":"C=O","x":535.96,"y":20},{"s":"C=O","x":538.98,"y":20},
{"s":"O-C=O","x":527.0,"y":0.7},{"s":"O-C=O","x":528.0,"y":1.7},{"s":"O-C=O","x":528.99,"y":4},{"s":"O-C=O","x":529.99,"y":8.3},{"s":"O-C=O","x":530.99,"y":15.3},{"s":"O-C=O","x":531.98,"y":25.3},{"s":"O-C=O","x":532.98,"y":34.3},{"s":"O-C=O","x":533.8,"y":40},{"s":"O-C=O","x":534.47,"y":41.7},{"s":"O-C=O","x":535.13,"y":40.7},{"s":"O-C=O","x":535.96,"y":36},{"s":"O-C=O","x":536.79,"y":29.3},{"s":"O-C=O","x":537.62,"y":24.3},{"s":"O-C=O","x":538.28,"y":22},{"s":"O-C=O","x":538.98,"y":20.3},
{"s":"bg","x":527.0,"y":0.3},{"s":"bg","x":528.83,"y":1},{"s":"bg","x":529.99,"y":2.7},{"s":"bg","x":530.99,"y":5.7},{"s":"bg","x":531.98,"y":10.7},{"s":"bg","x":532.98,"y":16},{"s":"bg","x":533.64,"y":18.7},{"s":"bg","x":534.3,"y":19.7},{"s":"bg","x":535.63,"y":20},{"s":"bg","x":538.98,"y":20.3}
],
"g_lab": [{"s":"C-O","t":"C-O","x":530.49,"y":114.3},{"s":"C=O","t":"C=O","x":534.77,"y":85.3},{"s":"O-C=O","t":"O-C=O","x":536.46,"y":46}],
"h": [
{"s":"raw","x":395.0,"y":42.7},{"s":"raw","x":395.15,"y":62.7},{"s":"raw","x":395.27,"y":49.3},{"s":"raw","x":395.41,"y":54.3},{"s":"raw","x":395.54,"y":64.3},{"s":"raw","x":395.68,"y":42.7},{"s":"raw","x":395.83,"y":41},{"s":"raw","x":395.95,"y":36},{"s":"raw","x":396.08,"y":39.3},{"s":"raw","x":396.2,"y":26},{"s":"raw","x":396.33,"y":47.7},{"s":"raw","x":396.45,"y":42.7},{"s":"raw","x":396.58,"y":39.3},{"s":"raw","x":396.7,"y":41},{"s":"raw","x":396.83,"y":46},{"s":"raw","x":396.95,"y":52.7},{"s":"raw","x":397.12,"y":57.7},{"s":"raw","x":397.24,"y":51},{"s":"raw","x":397.37,"y":32.7},{"s":"raw","x":397.49,"y":59.3},{"s":"raw","x":397.61,"y":66},{"s":"raw","x":397.74,"y":49.3},{"s":"raw","x":397.86,"y":69.3},{"s":"raw","x":397.99,"y":61},{"s":"raw","x":398.11,"y":72.7},{"s":"raw","x":398.24,"y":76},{"s":"raw","x":398.36,"y":92.7},{"s":"raw","x":398.49,"y":106},{"s":"raw","x":398.61,"y":102.7},{"s":"raw","x":398.73,"y":122.7},{"s":"raw","x":398.86,"y":111},{"s":"raw","x":398.98,"y":132.7},{"s":"raw","x":399.11,"y":153.3},{"s":"raw","x":399.23,"y":132.7},{"s":"raw","x":399.36,"y":131},{"s":"raw","x":399.48,"y":149.3},{"s":"raw","x":399.61,"y":156},{"s":"raw","x":399.73,"y":152.7},{"s":"raw","x":399.85,"y":121},{"s":"raw","x":399.98,"y":154.3},{"s":"raw","x":400.1,"y":142.7},{"s":"raw","x":400.23,"y":116},{"s":"raw","x":400.35,"y":89.3},{"s":"raw","x":400.48,"y":72.7},{"s":"raw","x":400.6,"y":102.7},{"s":"raw","x":400.73,"y":111},{"s":"raw","x":400.85,"y":79.3},{"s":"raw","x":400.98,"y":106},{"s":"raw","x":401.1,"y":76},{"s":"raw","x":401.22,"y":94.3},{"s":"raw","x":401.35,"y":82.7},{"s":"raw","x":401.47,"y":99.3},{"s":"raw","x":401.6,"y":52.7},{"s":"raw","x":401.72,"y":82.7},{"s":"raw","x":401.85,"y":82.7},{"s":"raw","x":401.97,"y":66},{"s":"raw","x":402.1,"y":66},{"s":"raw","x":402.22,"y":42.7},{"s":"raw","x":402.34,"y":86},{"s":"raw","x":402.47,"y":62.7},{"s":"raw","x":402.59,"y":66},{"s":"raw","x":402.72,"y":56},{"s":"raw","x":402.84,"y":52.7},{"s":"raw","x":402.97,"y":39.3},{"s":"raw","x":403.09,"y":42.7},{"s":"raw","x":403.22,"y":29.3},{"s":"raw","x":403.34,"y":46},{"s":"raw","x":403.46,"y":49.3},{"s":"raw","x":403.59,"y":62.7},{"s":"raw","x":403.71,"y":56},{"s":"raw","x":403.84,"y":66},{"s":"raw","x":403.96,"y":56},{"s":"raw","x":404.09,"y":49.3},{"s":"raw","x":404.21,"y":62.7},{"s":"raw","x":404.34,"y":42.7},{"s":"raw","x":404.46,"y":36},{"s":"raw","x":404.59,"y":46},{"s":"raw","x":404.71,"y":26},{"s":"raw","x":404.83,"y":36},{"s":"raw","x":404.96,"y":26},{"s":"raw","x":405.08,"y":42.7},{"s":"raw","x":405.21,"y":26},{"s":"raw","x":405.33,"y":39.3},{"s":"raw","x":405.46,"y":19.3},{"s":"raw","x":405.58,"y":66},{"s":"raw","x":405.71,"y":42.7},{"s":"raw","x":405.83,"y":29.3},{"s":"raw","x":405.95,"y":36},{"s":"raw","x":406.08,"y":49.3},{"s":"raw","x":406.2,"y":32.7},{"s":"raw","x":406.33,"y":56},{"s":"raw","x":406.45,"y":26},{"s":"raw","x":406.58,"y":36},{"s":"raw","x":406.7,"y":39.3},{"s":"raw","x":406.83,"y":52.7},{"s":"raw","x":406.95,"y":59.3},{"s":"raw","x":407.07,"y":36},{"s":"raw","x":407.2,"y":42.7},{"s":"raw","x":407.32,"y":26},{"s":"raw","x":407.45,"y":49.3},{"s":"raw","x":407.57,"y":39.3},{"s":"raw","x":407.7,"y":46},{"s":"raw","x":407.82,"y":32.7},{"s":"raw","x":407.95,"y":42.7},{"s":"raw","x":408.07,"y":56},{"s":"raw","x":408.2,"y":32.7},{"s":"raw","x":408.32,"y":46},{"s":"raw","x":408.44,"y":29.3},{"s":"raw","x":408.57,"y":36},{"s":"raw","x":408.69,"y":62.7},{"s":"raw","x":408.82,"y":29.3},{"s":"raw","x":408.9,"y":11},{"s":"raw","x":409.02,"y":56},{"s":"raw","x":409.15,"y":26},{"s":"raw","x":409.27,"y":36},{"s":"raw","x":409.4,"y":32.7},{"s":"raw","x":409.52,"y":32.7},{"s":"raw","x":409.65,"y":22.7},{"s":"raw","x":409.77,"y":26},{"s":"raw","x":409.9,"y":21},{"s":"raw","x":410.0,"y":22.7},
{"s":"bg","x":395,"y":68.7},{"s":"bg","x":396.24,"y":66},{"s":"bg","x":397.49,"y":63.7},{"s":"bg","x":398.32,"y":62},{"s":"bg","x":398.94,"y":57.7},{"s":"bg","x":399.56,"y":51},{"s":"bg","x":400.19,"y":46},{"s":"bg","x":401.02,"y":42},{"s":"bg","x":402.26,"y":37.7},{"s":"bg","x":403.51,"y":34.3},{"s":"bg","x":404.75,"y":32},{"s":"bg","x":406.0,"y":30},{"s":"bg","x":407.66,"y":28.7},{"s":"bg","x":410,"y":26.7}
],
"h_lab": [{"t":"No reliable N 1s","x":405.06,"y":142},{"t":"chemical-state assignment","x":404.96,"y":127.7}],
"i": [
{"s":"bg","x":614,"y":17},{"s":"bg","x":624,"y":21},
{"s":"raw","x":614,"y":15.7},{"s":"raw","x":614.18,"y":14.3},{"s":"raw","x":614.39,"y":15.3},{"s":"raw","x":614.59,"y":16},{"s":"raw","x":614.8,"y":17},{"s":"raw","x":615.01,"y":18},{"s":"raw","x":615.22,"y":17.3},{"s":"raw","x":615.42,"y":19},{"s":"raw","x":615.63,"y":18.3},{"s":"raw","x":615.84,"y":19.3},{"s":"raw","x":616.05,"y":18.7},{"s":"raw","x":616.25,"y":19.3},{"s":"raw","x":616.39,"y":20.3},{"s":"raw","x":616.6,"y":25},{"s":"raw","x":616.81,"y":35},{"s":"raw","x":617.02,"y":41.7},{"s":"raw","x":617.22,"y":55},{"s":"raw","x":617.43,"y":71.7},{"s":"raw","x":617.64,"y":90},{"s":"raw","x":617.85,"y":107.7},{"s":"raw","x":618.05,"y":121.7},{"s":"raw","x":618.26,"y":131.7},{"s":"raw","x":618.44,"y":141.7},{"s":"raw","x":618.54,"y":143.3},{"s":"raw","x":618.67,"y":139},{"s":"raw","x":618.81,"y":137.3},{"s":"raw","x":619.02,"y":131.7},{"s":"raw","x":619.16,"y":125},{"s":"raw","x":619.37,"y":111},{"s":"raw","x":619.57,"y":96.7},{"s":"raw","x":619.78,"y":82.3},{"s":"raw","x":619.99,"y":71.7},{"s":"raw","x":620.27,"y":61.7},{"s":"raw","x":620.54,"y":50},{"s":"raw","x":620.82,"y":41.7},{"s":"raw","x":621.1,"y":37.7},{"s":"raw","x":621.3,"y":31.7},{"s":"raw","x":621.51,"y":25.7},{"s":"raw","x":621.79,"y":25},{"s":"raw","x":622.0,"y":26.3},{"s":"raw","x":622.2,"y":20.3},{"s":"raw","x":622.48,"y":19.3},{"s":"raw","x":622.76,"y":20.7},{"s":"raw","x":623.03,"y":19.7},{"s":"raw","x":623.24,"y":18.3},{"s":"raw","x":623.52,"y":20.3},{"s":"raw","x":623.72,"y":23.7},{"s":"raw","x":623.86,"y":20},{"s":"raw","x":624.0,"y":20.7},
{"s":"env","x":616.25,"y":19.3},{"s":"env","x":616.81,"y":33.3},{"s":"env","x":617.36,"y":66.7},{"s":"env","x":617.91,"y":108.3},{"s":"env","x":618.33,"y":131.7},{"s":"env","x":618.58,"y":139.7},{"s":"env","x":618.77,"y":138.3},{"s":"env","x":619.09,"y":127.7},{"s":"env","x":619.44,"y":107.7},{"s":"env","x":619.78,"y":85},{"s":"env","x":620.13,"y":66.7},{"s":"env","x":620.47,"y":53.3},{"s":"env","x":620.82,"y":42.3},{"s":"env","x":621.23,"y":32.3},{"s":"env","x":621.65,"y":25},{"s":"env","x":622.2,"y":21.7},{"s":"env","x":624,"y":20.7},
{"s":"poly","x":616.25,"y":19},{"s":"poly","x":616.53,"y":23.3},{"s":"poly","x":616.81,"y":32.7},{"s":"poly","x":617.08,"y":47.7},{"s":"poly","x":617.36,"y":66.3},{"s":"poly","x":617.64,"y":86.7},{"s":"poly","x":617.91,"y":107.7},{"s":"poly","x":618.19,"y":125},{"s":"poly","x":618.47,"y":135.7},{"s":"poly","x":618.63,"y":137.7},{"s":"poly","x":618.81,"y":135},{"s":"poly","x":619.09,"y":123.3},{"s":"poly","x":619.37,"y":101.7},{"s":"poly","x":619.64,"y":76.7},{"s":"poly","x":619.92,"y":53.3},{"s":"poly","x":620.2,"y":36.7},{"s":"poly","x":620.47,"y":26.7},{"s":"poly","x":620.75,"y":22.3},{"s":"poly","x":621.1,"y":20.3},{"s":"poly","x":621.65,"y":19.7},{"s":"poly","x":624,"y":20.3},
{"s":"C-I","x":614,"y":16.7},{"s":"C-I","x":615.7,"y":17.7},{"s":"C-I","x":617.08,"y":18.7},{"s":"C-I","x":618.05,"y":20.3},{"s":"C-I","x":618.61,"y":23.7},{"s":"C-I","x":619.02,"y":29},{"s":"C-I","x":619.44,"y":37.7},{"s":"C-I","x":619.78,"y":45.7},{"s":"C-I","x":620.06,"y":49.7},{"s":"C-I","x":620.27,"y":50.7},{"s":"C-I","x":620.54,"y":49},{"s":"C-I","x":620.89,"y":42.3},{"s":"C-I","x":621.23,"y":33},{"s":"C-I","x":621.65,"y":25.3},{"s":"C-I","x":622.06,"y":21.7},{"s":"C-I","x":622.62,"y":20.7},{"s":"C-I","x":624,"y":20.7}
],
"i_lab": [{"s":"poly","t":"Polyiodide-related","x":616.19,"y":134.3},{"s":"C-I","t":"C-I-related","x":622.17,"y":59}],
"tl": [{"p":"f","t":"GF@rGO-V","x":281.68,"y":161},{"p":"g","t":"GF@rGO-V","x":527.17,"y":162},{"p":"h","t":"GF@rGO-V","x":395.2,"y":162},{"p":"i","t":"GF@rGO-V","x":614.18,"y":161.7}],
"tr": [{"p":"f","t":"C 1s","x":292.76,"y":161},{"p":"g","t":"O 1s","x":538.81,"y":162},{"p":"h","t":"N 1s","x":409.73,"y":162},{"p":"i","t":"I 3d","x":623.86,"y":161.7}]
},
"concat": [
{
 "width": 242, "height": 174,
 "title": {"text": "a", "dx": -48},
 "encoding": {
  "x": {"field": "x", "type": "quantitative", "scale": {"domain": [0, 80], "nice": false}, "axis": {"title": "2 θ /°", "values": [0,10,20,30,40,50,60,70,80], "labelExpr": "datum.value % 20 === 0 ? datum.label : ''"}},
  "y": {"field": "y", "type": "quantitative", "scale": {"domain": [0, 176], "nice": false}, "axis": {"title": "Intensity /a.u.", "labels": false, "ticks": false, "titlePadding": 5}}
 },
 "layer": [
  {"data": {"name": "a_rule"}, "mark": {"type": "rule", "strokeDash": [2, 3], "strokeWidth": 1.6, "color": "#000000"}, "encoding": {"y2": {"field": "y2"}}},
  {"data": {"name": "a"}, "mark": {"type": "line", "strokeWidth": 1.5, "clip": true}, "encoding": {"color": {"field": "s", "type": "nominal", "scale": {"domain": ["GF","GF@rGO-T","GF@rGO-V"], "range": ["#555555","#e31a1c","#3a87b8"]}, "legend": {"title": null, "orient": "top-right", "offset": 4, "symbolType": "M-3.1,0H3.1", "symbolSize": 49, "symbolOffset": 8, "labelOffset": 18}}}},
  {"data": {"name": "a_text"}, "mark": {"type": "text", "align": "center", "baseline": "middle", "color": "#000000"}, "encoding": {"text": {"field": "t"}}}
 ]
},
{
 "width": 242, "height": 174,
 "title": {"text": "b", "dx": -32},
 "encoding": {
  "x": {"field": "x", "type": "quantitative", "scale": {"domain": [755, 2250], "nice": false}, "axis": {"title": "Raman /cm⁻¹", "format": "d", "values": [1000,1250,1500,1750,2000], "labelExpr": "datum.value % 500 === 0 ? datum.label : ''"}},
  "y": {"field": "y", "type": "quantitative", "scale": {"domain": [0, 174], "nice": false}, "axis": {"title": "Intensity /a.u.", "labels": false, "ticks": false, "titlePadding": 5}}
 },
 "layer": [
  {"data": {"name": "b"}, "mark": {"type": "line", "strokeWidth": 1.5, "clip": true}, "encoding": {"color": {"field": "s", "type": "nominal", "scale": {"domain": ["GF","GF@rGO-T","GF@rGO-V"], "range": ["#111111","#e31a1c","#3a87b8"]}, "legend": null}}},
  {"data": {"name": "b_text"}, "mark": {"type": "text", "align": "center", "baseline": "middle", "color": "#000000"}, "encoding": {"text": {"field": "t"}}},
  {"data": {"name": "b_ratio"}, "mark": {"type": "text", "align": "left", "baseline": "middle"}, "encoding": {"text": {"value": "I"}, "color": {"field": "s", "type": "nominal", "scale": {"domain": ["GF","GF@rGO-T","GF@rGO-V"], "range": ["#111111","#e31a1c","#3a87b8"]}, "legend": null}}},
  {"data": {"name": "b_ratio"}, "mark": {"type": "text", "align": "left", "baseline": "middle", "dx": 3.1, "dy": 3, "fontSize": 7.5}, "encoding": {"text": {"value": "D"}, "color": {"field": "s", "type": "nominal", "legend": null}}},
  {"data": {"name": "b_ratio"}, "mark": {"type": "text", "align": "left", "baseline": "middle", "dx": 8.5}, "encoding": {"text": {"value": "/I"}, "color": {"field": "s", "type": "nominal", "legend": null}}},
  {"data": {"name": "b_ratio"}, "mark": {"type": "text", "align": "left", "baseline": "middle", "dx": 14.7, "dy": 3, "fontSize": 7.5}, "encoding": {"text": {"value": "G"}, "color": {"field": "s", "type": "nominal", "legend": null}}},
  {"data": {"name": "b_ratio"}, "mark": {"type": "text", "align": "left", "baseline": "middle", "dx": 20.5}, "encoding": {"text": {"field": "r"}, "color": {"field": "s", "type": "nominal", "legend": null}}}
 ]
},
{
 "width": 241, "height": 174,
 "title": {"text": "c", "dx": -42},
 "encoding": {
  "x": {"field": "x", "type": "quantitative", "scale": {"domain": [0, 1], "nice": false}, "axis": {"title": "P/P₀", "format": ".1f", "values": [0,0.1,0.2,0.3,0.4,0.5,0.6,0.7,0.8,0.9,1], "labelExpr": "round(datum.value*10) % 2 === 0 ? datum.label : ''"}},
  "y": {"field": "y", "type": "quantitative", "scale": {"domain": [0, 14], "nice": false}, "axis": {"title": "V /cm³/g", "values": [0,2,4,6,8,10,12,14], "titlePadding": 3}}
 },
 "layer": [
  {"data": {"name": "c"}, "mark": {"type": "line", "strokeWidth": 1.4, "clip": true}, "encoding": {"detail": {"field": "b"}, "color": {"field": "s", "type": "nominal", "scale": {"domain": ["GF","GF@rGO-T","GF@rGO-V"], "range": ["#444444","#e31a1c","#3a87b8"]},
    "legend": {"title": null, "orient": "top-left", "offset": 4, "symbolSize": 49, "symbolOffset": 8, "labelOffset": 18, "symbolStrokeWidth": 1.5,
      "symbolType": {"expr": "datum.value === 'GF' ? 'M-3.1,0H3.1M0,-0.85L0.85,0L0,0.85L-0.85,0Z' : datum.value === 'GF@rGO-T' ? 'M-3.1,0H3.1M0,-0.85L0.9,0.65L-0.9,0.65Z' : 'M-3.1,0H3.1M0.75,0A0.75,0.75,0,1,1,-0.75,0A0.75,0.75,0,1,1,0.75,0Z'"},
      "symbolFillColor": {"expr": "datum.value === 'GF' ? '#444444' : datum.value === 'GF@rGO-T' ? '#e31a1c' : '#b5d7ec'"}}}}},
  {"data": {"name": "c"}, "transform": [{"filter": "datum.s === 'GF'"}], "mark": {"type": "point", "shape": "diamond", "filled": true, "size": 22, "color": "#444444", "opacity": 1}},
  {"data": {"name": "c"}, "transform": [{"filter": "datum.s === 'GF@rGO-T' && datum.b === 'a'"}], "mark": {"type": "point", "shape": "triangle-up", "filled": true, "size": 24, "color": "#e31a1c", "opacity": 1}},
  {"data": {"name": "c"}, "transform": [{"filter": "datum.s === 'GF@rGO-T' && datum.b === 'd'"}], "mark": {"type": "point", "shape": "triangle-down", "filled": true, "size": 24, "color": "#e31a1c", "opacity": 1}},
  {"data": {"name": "c"}, "transform": [{"filter": "datum.s === 'GF@rGO-V'"}], "mark": {"type": "point", "shape": "circle", "filled": true, "size": 24, "fill": "#b5d7ec", "stroke": "#3a87b8", "strokeWidth": 1.1, "opacity": 1}}
 ]
},
{
 "width": 242, "height": 174,
 "title": {"text": "d", "dx": -50},
 "encoding": {
  "x": {"field": "x", "type": "quantitative", "scale": {"type": "log", "domain": [1, 164], "nice": false}, "axis": {"title": "Pore Diameter /nm", "format": "d", "values": [1,10,100]}},
  "y": {"field": "y", "type": "quantitative", "scale": {"domain": [-0.7, 12], "nice": false}, "axis": {"title": "dV/dlog(D)×10⁻³ /cm³/g·nm", "titleFontSize": 14, "values": [0,4,8,12], "titlePadding": 1}}
 },
 "layer": [
  {"data": {"name": "d"}, "mark": {"type": "line", "strokeWidth": 1.5, "clip": true}, "encoding": {"color": {"field": "s", "type": "nominal", "scale": {"domain": ["GF","GF@rGO-T","GF@rGO-V"], "range": ["#555555","#e31a1c","#3a87b8"]},
    "legend": {"title": null, "orient": "top-right", "offset": 6, "symbolSize": 49, "symbolOffset": 8, "labelOffset": 18, "symbolStrokeWidth": 1.5,
      "symbolType": {"expr": "datum.value === 'GF' ? 'M-3.1,0H3.1M-0.6,-0.6H0.6V0.6H-0.6Z' : datum.value === 'GF@rGO-T' ? 'M-3.1,0H3.1M0.75,0A0.75,0.75,0,1,1,-0.75,0A0.75,0.75,0,1,1,0.75,0Z' : 'M-3.1,0H3.1M0,-0.9L0.9,0.65L-0.9,0.65Z'"},
      "symbolFillColor": {"expr": "datum.value === 'GF' ? '#555555' : datum.value === 'GF@rGO-T' ? '#e31a1c' : '#3a87b8'"}}}}},
  {"data": {"name": "d"}, "transform": [{"filter": "datum.s === 'GF'"}], "mark": {"type": "point", "shape": "square", "filled": true, "size": 14, "color": "#555555", "opacity": 1}},
  {"data": {"name": "d"}, "transform": [{"filter": "datum.s === 'GF@rGO-T'"}], "mark": {"type": "point", "shape": "circle", "filled": true, "size": 24, "color": "#e31a1c", "opacity": 1}},
  {"data": {"name": "d"}, "transform": [{"filter": "datum.s === 'GF@rGO-V'"}], "mark": {"type": "point", "shape": "triangle-up", "filled": true, "size": 30, "color": "#3a87b8", "opacity": 1}}
 ]
},
{
 "width": 242, "height": 174,
 "title": {"text": "e", "dx": -32},
 "encoding": {
  "x": {"field": "x", "type": "quantitative", "scale": {"domain": [0, 800], "nice": false}, "axis": {"title": "Binding energy /eV", "format": "d", "values": [0,100,200,300,400,500,600,700,800], "labelExpr": "datum.value % 200 === 0 ? datum.label : ''"}},
  "y": {"field": "y", "type": "quantitative", "scale": {"domain": [0, 175], "nice": false}, "axis": {"title": "Intensity /a.u.", "labels": false, "ticks": false, "titlePadding": 5}}
 },
 "layer": [
  {"data": {"name": "e"}, "mark": {"type": "line", "strokeWidth": 1.4, "clip": true}, "encoding": {"color": {"field": "s", "type": "nominal", "scale": {"domain": ["GF","GF@rGO-T","GF@rGO-V"], "range": ["#111111","#3a87b8","#e31a1c"]}, "legend": null}}},
  {"data": {"name": "e_text"}, "mark": {"type": "text", "align": "center", "baseline": "middle", "color": "#000000"}, "encoding": {"text": {"field": "t"}}}
 ]
},
{
 "width": 241, "height": 174,
 "title": {"text": "f", "dx": -42},
 "encoding": {
  "x": {"field": "x", "type": "quantitative", "scale": {"domain": [281.46, 292.96], "nice": false, "zero": false}, "axis": {"title": "Binding energy /eV", "values": [282,283.5,285,286.5,288,289.5,291,292.5], "labelExpr": "datum.value % 3 === 0 ? datum.label : ''"}},
  "y": {"field": "y", "type": "quantitative", "scale": {"domain": [-0.7, 171], "nice": false}, "axis": {"title": "Intensity /a.u.", "labels": false, "ticks": false, "titlePadding": 5}}
 },
 "layer": [
  {"data": {"name": "f"}, "mark": {"type": "line", "strokeWidth": 1.5, "clip": true}, "encoding": {"color": {"field": "s", "type": "nominal", "scale": {"domain": ["raw","env","C-C","C-I","C-O-C","bg"], "range": ["#000000","#8fd6cb","#2f7eb6","#e31a1c","#4d4d4d","#1f1f9e"]}, "legend": null}}},
  {"data": {"name": "f_lab"}, "mark": {"type": "text", "align": "left", "baseline": "middle"}, "encoding": {"text": {"field": "t"}, "color": {"field": "s", "type": "nominal", "legend": null}}},
  {"data": {"name": "tl"}, "transform": [{"filter": "datum.p === 'f'"}], "mark": {"type": "text", "align": "left", "baseline": "middle", "color": "#000000"}, "encoding": {"text": {"field": "t"}}},
  {"data": {"name": "tr"}, "transform": [{"filter": "datum.p === 'f'"}], "mark": {"type": "text", "align": "right", "baseline": "middle", "color": "#000000"}, "encoding": {"text": {"field": "t"}}}
 ]
},
{
 "width": 242, "height": 171,
 "title": {"text": "g", "dx": -48},
 "encoding": {
  "x": {"field": "x", "type": "quantitative", "scale": {"domain": [527, 539], "nice": false, "zero": false}, "axis": {"title": "Binding energy /eV", "values": [528,529.5,531,532.5,534,535.5,537,538.5], "labelExpr": "datum.value % 3 === 0 ? datum.label : ''"}},
  "y": {"field": "y", "type": "quantitative", "scale": {"domain": [0, 171], "nice": false}, "axis": {"title": "Intensity /a.u.", "labels": false, "ticks": false, "titlePadding": 5}}
 },
 "layer": [
  {"data": {"name": "g"}, "mark": {"type": "line", "strokeWidth": 1.5, "clip": true}, "encoding": {"color": {"field": "s", "type": "nominal", "scale": {"domain": ["raw","C-O","C=O","O-C=O","bg"], "range": ["#000000","#e31a1c","#2f7eb6","#5fdcb8","#3b3bd6"]}, "legend": null}}},
  {"data": {"name": "g_lab"}, "mark": {"type": "text", "align": "center", "baseline": "middle"}, "encoding": {"text": {"field": "t"}, "color": {"field": "s", "type": "nominal", "legend": null}}},
  {"data": {"name": "tl"}, "transform": [{"filter": "datum.p === 'g'"}], "mark": {"type": "text", "align": "left", "baseline": "middle", "color": "#000000"}, "encoding": {"text": {"field": "t"}}},
  {"data": {"name": "tr"}, "transform": [{"filter": "datum.p === 'g'"}], "mark": {"type": "text", "align": "right", "baseline": "middle", "color": "#000000"}, "encoding": {"text": {"field": "t"}}}
 ]
},
{
 "width": 242, "height": 171,
 "title": {"text": "h", "dx": -32},
 "encoding": {
  "x": {"field": "x", "type": "quantitative", "scale": {"domain": [395, 410], "nice": false, "zero": false}, "axis": {"title": "Binding energy /eV", "values": [395,397.5,400,402.5,405,407.5,410], "labelExpr": "datum.value % 5 === 0 ? datum.label : ''"}},
  "y": {"field": "y", "type": "quantitative", "scale": {"domain": [0, 171.7], "nice": false}, "axis": {"title": "Intensity /a.u.", "labels": false, "ticks": false, "titlePadding": 5}}
 },
 "layer": [
  {"data": {"name": "h"}, "mark": {"type": "line", "strokeWidth": 1.4, "clip": true}, "encoding": {"color": {"field": "s", "type": "nominal", "scale": {"domain": ["raw","bg"], "range": ["#000000","#555555"]}, "legend": null}}},
  {"data": {"name": "h_lab"}, "mark": {"type": "text", "align": "center", "baseline": "middle", "color": "#000000"}, "encoding": {"text": {"field": "t"}}},
  {"data": {"name": "tl"}, "transform": [{"filter": "datum.p === 'h'"}], "mark": {"type": "text", "align": "left", "baseline": "middle", "color": "#000000"}, "encoding": {"text": {"field": "t"}}},
  {"data": {"name": "tr"}, "transform": [{"filter": "datum.p === 'h'"}], "mark": {"type": "text", "align": "right", "baseline": "middle", "color": "#000000"}, "encoding": {"text": {"field": "t"}}}
 ]
},
{
 "width": 241, "height": 171,
 "title": {"text": "i", "dx": -42},
 "encoding": {
  "x": {"field": "x", "type": "quantitative", "scale": {"domain": [614, 624], "nice": false, "zero": false}, "axis": {"title": "Binding energy /eV", "values": [614,615,616,617,618,619,620,621,622,623,624], "labelExpr": "datum.value % 2 === 0 ? datum.label : ''"}},
  "y": {"field": "y", "type": "quantitative", "scale": {"domain": [0, 169], "nice": false}, "axis": {"title": "Intensity /a.u.", "labels": false, "ticks": false, "titlePadding": 5}}
 },
 "layer": [
  {"data": {"name": "i"}, "mark": {"type": "line", "strokeWidth": 1.5, "clip": true}, "encoding": {"color": {"field": "s", "type": "nominal", "scale": {"domain": ["bg","raw","env","poly","C-I"], "range": ["#666666","#000000","#a9b6e8","#2f86b8","#e31a1c"]}, "legend": null}}},
  {"data": {"name": "i_lab"}, "mark": {"type": "text", "align": "center", "baseline": "middle"}, "encoding": {"text": {"field": "t"}, "color": {"field": "s", "type": "nominal", "legend": null}}},
  {"data": {"name": "tl"}, "transform": [{"filter": "datum.p === 'i'"}], "mark": {"type": "text", "align": "left", "baseline": "middle", "color": "#000000"}, "encoding": {"text": {"field": "t"}}},
  {"data": {"name": "tr"}, "transform": [{"filter": "datum.p === 'i'"}], "mark": {"type": "text", "align": "right", "baseline": "middle", "color": "#000000"}, "encoding": {"text": {"field": "t"}}}
 ]
}
]
}
